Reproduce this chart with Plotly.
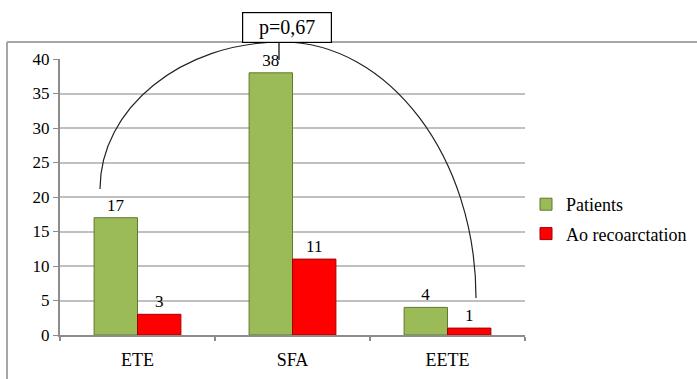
import plotly.graph_objects as go

categories = ["ETE", "SFA", "EETE"]
patients = [17, 38, 4]
recoarct = [3, 11, 1]
series_names = ["Patients", "Ao recoarctation"]
y_ticks = [0, 5, 10, 15, 20, 25, 30, 35, 40]
p_label = "p=0,67"

W, H = 697, 379
L, R, T, B = 60, 172, 59, 44
pw, ph = W - L - R, H - T - B


def px(x):
    return (x - L) / pw


def py(y):
    return (H - B - y) / ph


xs = list(range(len(categories)))
FAM = "Liberation Serif"
font = dict(family=FAM, size=17, color="#000000")

fig = go.Figure()
fig.add_trace(go.Bar(
    x=xs, y=patients, name=series_names[0], legendgroup="a",
    marker=dict(color="#9bbb59", line=dict(color="#5f7a2a", width=1)),
    text=patients, textposition="outside", textfont=font, cliponaxis=False,
))
fig.add_trace(go.Bar(
    x=xs, y=recoarct, name=series_names[1], legendgroup="b",
    marker=dict(color="#ff0000", line=dict(color="#a00000", width=1)),
    text=recoarct, textposition="outside", textfont=font, cliponaxis=False,
))

# arc path in paper coords
x0, y0 = px(100), py(189)
xt, yt = px(282), py(42)
x1, y1 = px(476), py(298)
k = 0.55
path = (
    f"M {x0},{y0} "
    f"C {x0},{y0 + k*(yt-y0)} {xt - k*(xt-x0)},{yt} {xt},{yt} "
    f"C {xt + k*(x1-xt)},{yt} {x1},{y1 + k*(yt-y1)} {x1},{y1}"
)
shapes = [
    dict(type="path", path=path, xref="paper", yref="paper",
         line=dict(color="#222222", width=1.2)),
    # outer frame top & left
    dict(type="line", xref="paper", yref="paper", x0=px(7), x1=px(W + 5), y0=py(42), y1=py(42),
         line=dict(color="#a6a6a6", width=2)),
    dict(type="line", xref="paper", yref="paper", x0=px(7), x1=px(7), y0=py(42), y1=py(H + 5),
         line=dict(color="#a6a6a6", width=2)),
    # small connector line from box
    dict(type="line", xref="paper", yref="paper", x0=px(279), x1=px(279), y0=py(43), y1=py(60),
         line=dict(color="#000000", width=1.2)),
]

fig.update_layout(
    width=W, height=H,
    margin=dict(l=L, r=R, t=T, b=B, autoexpand=False),
    paper_bgcolor="white", plot_bgcolor="white",
    barmode="group", bargap=0.44, bargroupgap=0,
    font=font,
    showlegend=True,
    legend=dict(x=px(526), y=py(186), xanchor="left", yanchor="top",
                font=dict(family=FAM, size=18, color="#000000"),
                itemwidth=30, tracegroupgap=3),
    shapes=shapes,
    annotations=[dict(
        text=p_label, xref="paper", yref="paper", x=px(286.5), y=py(27.5),
        xanchor="center", yanchor="middle", showarrow=False,
        font=dict(family=FAM, size=20, color="#000000"),
        bordercolor="#000000", borderwidth=1.2, bgcolor="white",
        width=86, height=27,
    )],
)
fig.update_xaxes(
    tickvals=xs, ticktext=categories, range=[-0.5, 2.5],
    showline=True, linecolor="#8c8c8c", linewidth=2,
    showgrid=False, zeroline=False, ticks="",
    tickfont=dict(family=FAM, size=18, color="#000000"),
    ticklabelstandoff=7,
    minor=dict(tick0=-0.5, dtick=1, ticks="outside", ticklen=4,
               tickcolor="#8c8c8c", tickwidth=2),
)
fig.update_yaxes(
    range=[0, 40], tickvals=y_ticks,
    showline=True, linecolor="#8c8c8c", linewidth=2,
    showgrid=True, gridcolor="#c0c0c0", gridwidth=1.5,
    zeroline=False, ticks="outside", ticklen=5, tickcolor="#8c8c8c",
    tickfont=font,
)
fig.write_html("out.html")
